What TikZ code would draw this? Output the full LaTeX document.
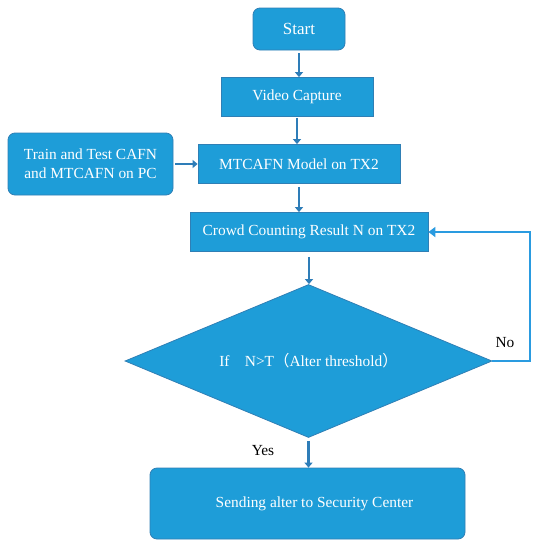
\documentclass[tikz,border=0pt]{standalone}
\usepackage{fontspec}
\setmainfont{Liberation Serif}
\newfontfamily\cjk{Noto Sans CJK SC}
\usetikzlibrary{shapes.geometric,arrows.meta}
\definecolor{boxfill}{HTML}{1E9DD8}
\definecolor{boxline}{HTML}{2F7FB5}
\definecolor{arrowc}{HTML}{2E7DB8}
\definecolor{loopc}{HTML}{2A9BE0}
\begin{document}
\begin{tikzpicture}[x=1pt,y=-1pt,
  base/.style={fill=boxfill,draw=boxline,line width=0.8pt,text=white,font=\fontsize{15.4}{19}\selectfont,align=center,inner sep=0pt},
  rbox/.style={base,rounded corners=7pt},
  sbox/.style={base},
  flow/.style={draw=arrowc,line width=2.6pt,-{Triangle[width=8pt,length=5pt]}},
  loopline/.style={draw=loopc,line width=2.6pt,-{Triangle[width=10pt,length=7pt]}},
  lbl/.style={font=\fontsize{15.4}{19}\selectfont,text=black}]
\useasboundingbox (0,0) rectangle (539,550);
\node[rbox,minimum width=92pt,minimum height=42pt,font=\fontsize{17}{20}\selectfont] (start) at (299,29) {Start};
\node[sbox,minimum width=152pt,minimum height=39pt] (video) at (297,97) {Video Capture};
\node[sbox,minimum width=202pt,minimum height=39pt] (model) at (299,164) {MTCAFN Model on TX2};
\node[rbox,minimum width=165pt,minimum height=62pt] (train) at (90.5,164) {Train and Test CAFN\\and MTCAFN on PC};
\node[sbox,minimum width=238pt,minimum height=39pt] (count) at (309,232) {Crowd Counting Result N on TX2};
\node[diamond,base,minimum width=367pt,minimum height=153pt,aspect=2.4] (dec) at (308.5,361) {If\quad N>T{\cjk（}Alter threshold{\cjk）}};
\node[rbox,minimum width=315pt,minimum height=71pt] (send) at (307.5,503.5) {\hspace*{14pt}Sending alter to Security Center};
\coordinate (c1) at (530,361);
\coordinate (c2) at (530,232);
\draw[flow] (start.south) ++(0,3) coordinate (s1) -- (start.south |- video.north);
\draw[flow] (video.south) ++(0,1) -- (video.south |- model.north);
\draw[flow] (train.east) ++(2,0) -- (model.west);
\draw[flow] (model.south) ++(0,3) -- (model.south |- count.north);
\draw[flow] (count.south) ++(0,5) -- (count.south |- dec.north);
\draw[flow] (dec.south) ++(0,3) -- (dec.south |- send.north);
\draw[loopline] (dec.east) -- (c1) -- (c2) -- (count.east);
\node[lbl] (no) at (505,343) {No};
\node[lbl] (yes) at (263,451) {Yes};
\end{tikzpicture}
\end{document}
